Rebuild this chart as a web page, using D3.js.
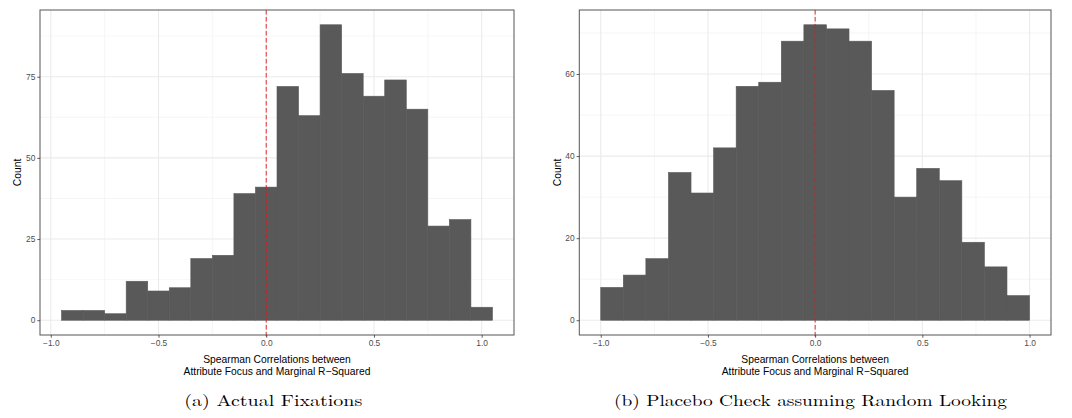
<!DOCTYPE html>
<html><head><meta charset="utf-8">
<script src="https://cdn.jsdelivr.net/npm/d3@7"></script>
<style>
html,body{margin:0;padding:0;background:#fff;}
svg{display:block;}
</style></head>
<body>
<svg id="chart" width="1072" height="418"></svg>
<script>
// ---- Data ----
// Panel (a): bin breaks (width 0.1) and counts
const breaksA = [-0.95,-0.85,-0.75,-0.65,-0.55,-0.45,-0.35,-0.25,-0.15,-0.05,0.05,0.15,0.25,0.35,0.45,0.55,0.65,0.75,0.85,0.95,1.05];
const countsA = [3,3,2,12,9,10,19,20,39,41,72,63,91,76,69,74,65,29,31,4];
// Panel (b): bin breaks (19 bins from -1 to 1) and counts
const breaksB = [-1.0000,-0.8947,-0.7895,-0.6842,-0.5789,-0.4737,-0.3684,-0.2632,-0.1579,-0.0526,0.0526,0.1579,0.2632,0.3684,0.4737,0.5789,0.6842,0.7895,0.8947,1.0000];
const countsB = [8,11,15,36,31,42,57,58,68,72,71,68,56,30,37,34,19,13,6];
// Ticks
const xTicks = [-1.0,-0.5,0.0,0.5,1.0];
const xMinor = [-0.75,-0.25,0.25,0.75];
const yTicksA = [0,25,50,75];
const yMinorA = [12.5,37.5,62.5,87.5];
const yTicksB = [0,20,40,60];
const yMinorB = [10,30,50,70];
const xTitle = ["Spearman Correlations between","Attribute Focus and Marginal R\u2212Squared"];
const yTitle = "Count";
const captions = ["(a) Actual Fixations","(b) Placebo Check assuming Random Looking"];

const svg = d3.select("#chart");
const SANS = "'Liberation Sans', Arial, Helvetica, sans-serif";
const SERIF = "'Latin Modern Roman','CMU Serif','Liberation Serif', serif";

function panel(opt){
  const {left,right,top,bottom,xDom,yDom,breaks,counts,yTicks,yMinor,caption,capX,capW,yTitleX} = opt;
  const x = d3.scaleLinear().domain(xDom).range([left,right]);
  const y = d3.scaleLinear().domain(yDom).range([bottom,top]);
  const g = svg.append("g");
  g.append("rect").attr("x",left).attr("y",top).attr("width",right-left).attr("height",bottom-top).attr("fill","#fff");
  // minor grid
  g.selectAll(".vmin").data(xMinor).join("line")
    .attr("x1",d=>x(d)).attr("x2",d=>x(d)).attr("y1",top).attr("y2",bottom)
    .attr("stroke","#f2f2f2").attr("stroke-width",0.7);
  g.selectAll(".hmin").data(yMinor).join("line")
    .attr("y1",d=>y(d)).attr("y2",d=>y(d)).attr("x1",left).attr("x2",right)
    .attr("stroke","#f2f2f2").attr("stroke-width",0.7);
  // major grid
  g.selectAll(".vmaj").data(xTicks).join("line")
    .attr("x1",d=>x(d)).attr("x2",d=>x(d)).attr("y1",top).attr("y2",bottom)
    .attr("stroke","#ebebeb").attr("stroke-width",1.1);
  g.selectAll(".hmaj").data(yTicks).join("line")
    .attr("y1",d=>y(d)).attr("y2",d=>y(d)).attr("x1",left).attr("x2",right)
    .attr("stroke","#ebebeb").attr("stroke-width",1.1);
  // bars
  const bins = counts.map((c,i)=>({x0:breaks[i],x1:breaks[i+1],c}));
  g.selectAll(".bar").data(bins).join("rect")
    .attr("x",d=>x(d.x0)).attr("width",d=>x(d.x1)-x(d.x0))
    .attr("y",d=>y(d.c)).attr("height",d=>y(0)-y(d.c))
    .attr("fill","#595959").attr("stroke","#595959").attr("stroke-width",0.6);
  // dashed zero line
  g.append("line").attr("x1",x(0)).attr("x2",x(0)).attr("y1",top).attr("y2",bottom+2.7)
    .attr("stroke","#e31a1c").attr("stroke-width",0.9).attr("stroke-dasharray","4.5,2.5");
  // border
  g.append("rect").attr("x",left).attr("y",top).attr("width",right-left).attr("height",bottom-top)
    .attr("fill","none").attr("stroke","#555").attr("stroke-width",1);
  // axes
  const ax = g.append("g").attr("transform",`translate(0,${bottom})`)
    .call(d3.axisBottom(x).tickValues(xTicks).tickFormat(d3.format(".1f")).tickSize(2.7).tickPadding(2.5));
  const ay = g.append("g").attr("transform",`translate(${left},0)`)
    .call(d3.axisLeft(y).tickValues(yTicks).tickFormat(d3.format("d")).tickSize(2.7).tickPadding(2));
  [ax,ay].forEach(a=>{
    a.select(".domain").remove();
    a.selectAll(".tick line").attr("stroke","#333").attr("stroke-width",0.8);
    a.selectAll(".tick text").attr("fill","#4d4d4d").style("font-family",SANS).style("font-size","8.4px");
  });
  ax.selectAll(".tick text").text(d=>d3.format(".1f")(d).replace("-","\u2212"));
  // x title
  const cx = (left+right)/2;
  g.append("text").attr("x",cx).attr("y",362.5).attr("text-anchor","middle")
    .style("font-family",SANS).style("font-size","10.3px").attr("fill","#000").text(xTitle[0]);
  g.append("text").attr("x",cx).attr("y",375).attr("text-anchor","middle")
    .style("font-family",SANS).style("font-size","10.3px").attr("fill","#000").text(xTitle[1]);
  // y title
  g.append("text").attr("transform",`translate(${yTitleX},${(top+bottom)/2}) rotate(-90)`)
    .attr("text-anchor","middle").style("font-family",SANS).style("font-size","10.3px").attr("fill","#000").text(yTitle);
  // caption
  g.append("text").attr("x",capX).attr("y",406).attr("text-anchor","middle")
    .attr("textLength",capW).attr("lengthAdjust","spacingAndGlyphs")
    .style("font-family",SERIF).style("font-size","16px").attr("fill","#000").text(caption);
}

panel({left:40,right:514,top:10,bottom:335,xDom:[-1.05,1.15],yDom:[-4.55,95.55],
  breaks:breaksA,counts:countsA,yTicks:yTicksA,yMinor:yMinorA,caption:captions[0],capX:273.3,capW:178,yTitleX:20.5});
panel({left:579.3,right:1051,top:10,bottom:335,xDom:[-1.1,1.1],yDom:[-3.6,75.6],
  breaks:breaksB,counts:countsB,yTicks:yTicksB,yMinor:yMinorB,caption:captions[1],capX:810.5,capW:393,yTitleX:560.5});
</script>
</body></html>
